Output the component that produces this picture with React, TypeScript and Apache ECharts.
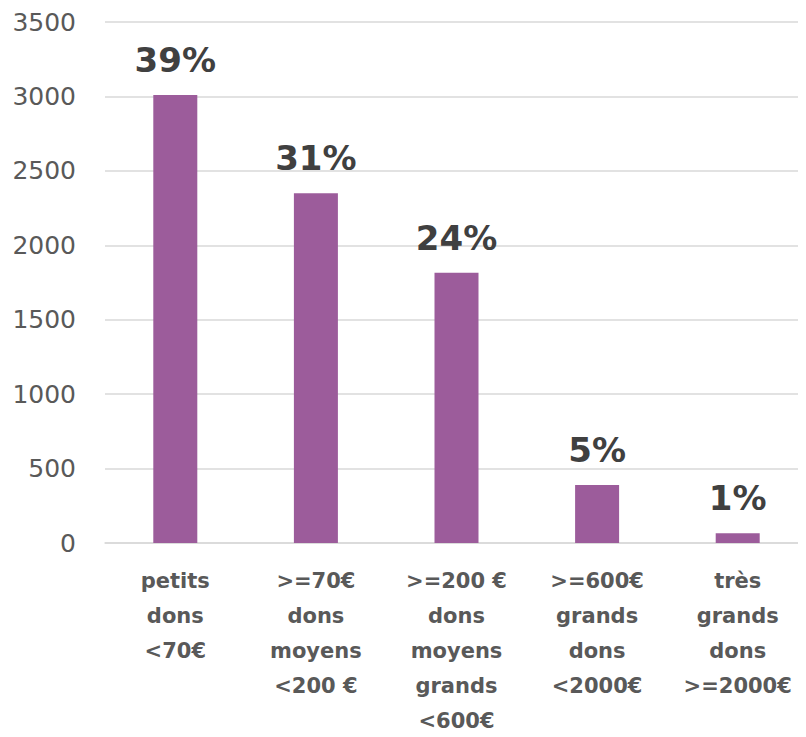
import React, { useEffect, useRef } from "react";
import * as echarts from "echarts";

const categories = [
  "petits\ndons\n<70€",
  ">=70€\ndons\nmoyens\n<200 €",
  ">=200 €\ndons\nmoyens\ngrands\n<600€",
  ">=600€\ngrands\ndons\n<2000€",
  "très\ngrands\ndons\n>=2000€",
];
const values = [3010, 2350, 1815, 390, 65];
const percentLabels = ["39%", "31%", "24%", "5%", "1%"];

export default function App() {
  const ref = useRef<HTMLDivElement>(null);
  useEffect(() => {
    const chart = echarts.init(ref.current!, null, { renderer: "svg" });
    chart.setOption({
      animation: false,
      grid: { left: 105, right: -2, top: 22, bottom: 194, outerBoundsMode: "none", containLabel: false },
      xAxis: {
        type: "category",
        data: categories,
        axisTick: { show: false },
        axisLine: { lineStyle: { color: "#d9d9d9", width: 1.5 } },
        axisLabel: {
          interval: 0,
          margin: 20,
          color: "#595959",
          fontFamily: "DejaVu Sans",
          fontWeight: "bold",
          fontSize: 21,
          lineHeight: 35,
        },
      },
      yAxis: {
        type: "value",
        min: 0,
        max: 3500,
        interval: 500,
        axisLine: { show: false },
        axisTick: { show: false },
        splitLine: { lineStyle: { color: "#d9d9d9", width: 1.5 } },
        axisLabel: {
          margin: 29,
          color: "#595959",
          fontFamily: "DejaVu Sans",
          fontSize: 25,
          formatter: (v: number) => String(v),
        },
      },
      series: [
        {
          type: "bar",
          data: values,
          barWidth: 44,
          itemStyle: { color: "#9c5c9b" },
          label: {
            show: true,
            position: "top",
            distance: 18,
            color: "#404040",
            fontFamily: "DejaVu Sans",
            fontWeight: "bold",
            fontSize: 34,
            formatter: (p: any) => percentLabels[p.dataIndex],
          },
        },
      ],
    });
    return () => chart.dispose();
  }, []);
  return <div ref={ref} style={{ width: 806, height: 737, margin: -8 }} />;
}
